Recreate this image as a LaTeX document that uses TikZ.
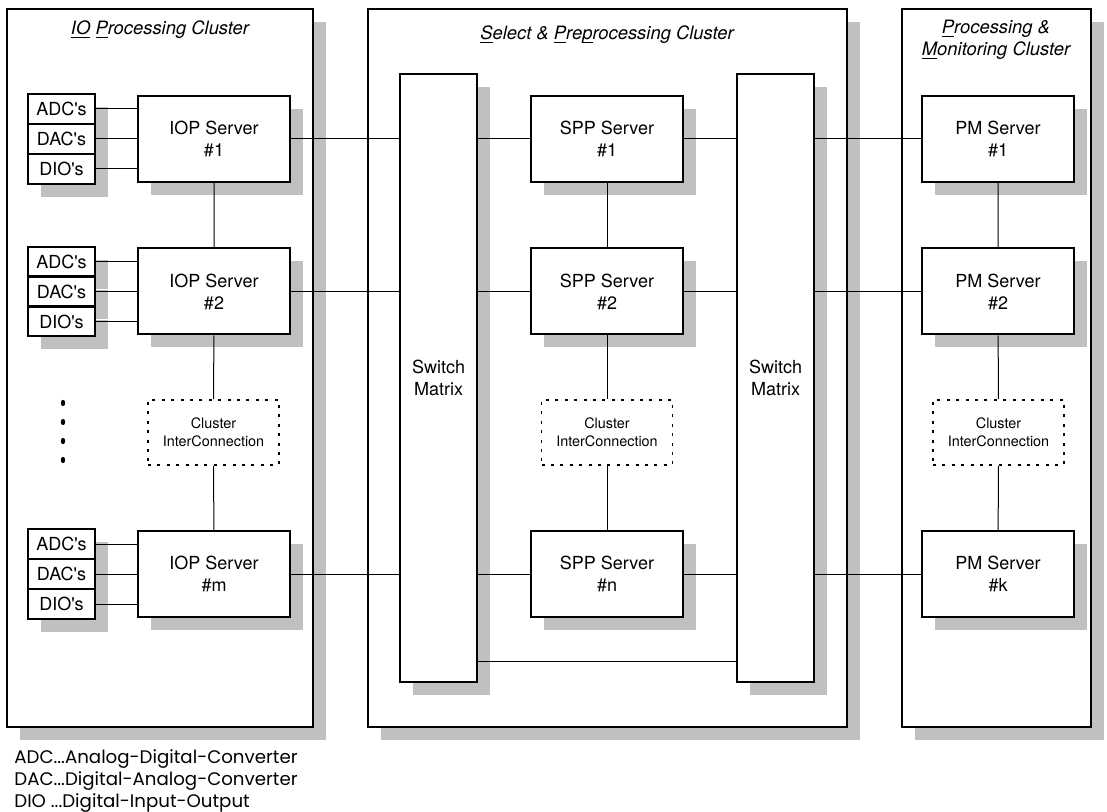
\documentclass[tikz,border=0pt]{standalone}
\usepackage{fontspec}
\setmainfont{TeX Gyre Heros}
\newfontfamily\legendfont{Poppins}
\usetikzlibrary{shadows,calc}
\definecolor{shadowgray}{RGB}{192,192,192}
\newcommand{\ulet}[1]{\underline{\smash{#1}}}

\begin{document}
\begin{tikzpicture}[x=0.5pt, y=-0.5pt,
    shade/.style={general shadow={fill=shadowgray, shadow xshift=6.5pt, shadow yshift=-6.5pt}},
    cluster/.style={draw, line width=0.6pt, fill=white, minimum height=359pt, inner sep=0pt, shade},
    server/.style={draw, line width=1pt, fill=white, minimum width=76pt, minimum height=43pt,
        inner sep=0pt, align=center, font=\fontsize{9}{11}\selectfont, shade},
    io/.style={draw, line width=1pt, fill=white, minimum width=33.5pt, minimum height=14.8pt,
        inner sep=0pt, font=\fontsize{9}{11}\selectfont, shade},
    switchbox/.style={draw, line width=1pt, fill=white, minimum width=38.5pt, minimum height=304pt,
        inner sep=0pt, align=center, font=\fontsize{9}{11}\selectfont, shade},
    interconn/.style={draw, line width=0.8pt, dash pattern=on 1.5pt off 3.2pt, fill=white,
        minimum width=65.5pt, minimum height=32.5pt, inner sep=0pt, align=center,
        font=\fontsize{7.2}{9}\selectfont},
    title/.style={align=center, font=\fontsize{9.2}{11}\selectfont\itshape},
    wire/.style={line width=0.5pt}]
    \useasboundingbox (0,0) rectangle (1107,812);

    % cluster frames
    \node[cluster, minimum width=153pt] (ioc) at (160,368) {};
    \node[cluster, minimum width=239.5pt] (sppc) at (607.5,368) {};
    \node[cluster, minimum width=94.5pt] (pmc) at (996.5,368) {};
    \node[title] (iot) at (160,30) {\ulet{IO} \ulet{P}rocessing Cluster};
    \node[title] (sppt) at (607,35) {\ulet{S}elect \& \ulet{P}re\ulet{p}rocessing Cluster};
    \node[title] (pmt) at (996,40) {\ulet{P}rocessing \&\\ \ulet{M}onitoring Cluster};

    % switch matrices
    \node[switchbox] (sw1) at (438.5,378) {Switch\\Matrix};
    \node[switchbox] (sw2) at (775.5,378) {Switch\\Matrix};

    % servers, one row each
    \foreach \i/\y/\a/\b/\c in {1/139/1/1/1, 2/291.5/2/2/2, 3/574/m/n/k} {
        \node[io] (adc\i) at (61.5,\y-30) {ADC\textquotesingle s};
        \node[io] (dac\i) at (61.5,\y) {DAC\textquotesingle s};
        \node[io] (dio\i) at (61.5,\y+30) {DIO\textquotesingle s};
        \node[server] (iop\i) at (214,\y) {IOP Server\\\#\a};
        \node[server] (spp\i) at (607,\y) {SPP Server\\\#\b};
        \node[server] (pm\i) at (998,\y) {PM Server\\\#\c};
        \draw[wire] (adc\i.east) -- (adc\i.east -| iop\i.west);
        \draw[wire] (dac\i.east) -- (dac\i.east -| iop\i.west);
        \draw[wire] (dio\i.east) -- (dio\i.east -| iop\i.west);
        \draw[wire] (iop\i.east) -- (iop\i.east -| sw1.west);
        \draw[wire] (spp\i.west -| sw1.east) -- (spp\i.west);
        \draw[wire] (spp\i.east) -- (spp\i.east -| sw2.west);
        \draw[wire] (pm\i.west -| sw2.east) -- (pm\i.west);
    }

    % cluster interconnections
    \node[interconn] (ci1) at (213.5,432.5) {Cluster\\InterConnection};
    \node[interconn] (ci2) at (607,432.5) {Cluster\\InterConnection};
    \node[interconn] (ci3) at (998.5,432.5) {Cluster\\InterConnection};
    \draw[wire] (iop1) -- (iop2) (iop2) -- (ci1) (ci1) -- (iop3);
    \draw[wire] (spp1) -- (spp2) (spp2) -- (ci2) (ci2) -- (spp3);
    \draw[wire] (pm1) -- (pm2) (pm2) -- (ci3) (ci3) -- (pm3);

    % link between the two switch matrices
    \coordinate (swlink) at (0,661);
    \draw[wire] (sw1.east |- swlink) -- (sw2.west |- swlink);

    % more rows
    \foreach \y in {403,422,441,460}
        \fill (63,\y) ellipse (1.1pt and 1.6pt);

    \node[anchor=north west, align=left, inner sep=0pt, font=\legendfont\fontsize{9.1}{11}\selectfont]
        (legend) at (14,749) {ADC...Analog-Digital-Converter\\DAC...Digital-Analog-Converter\\DIO ...Digital-Input-Output};
\end{tikzpicture}
\end{document}
